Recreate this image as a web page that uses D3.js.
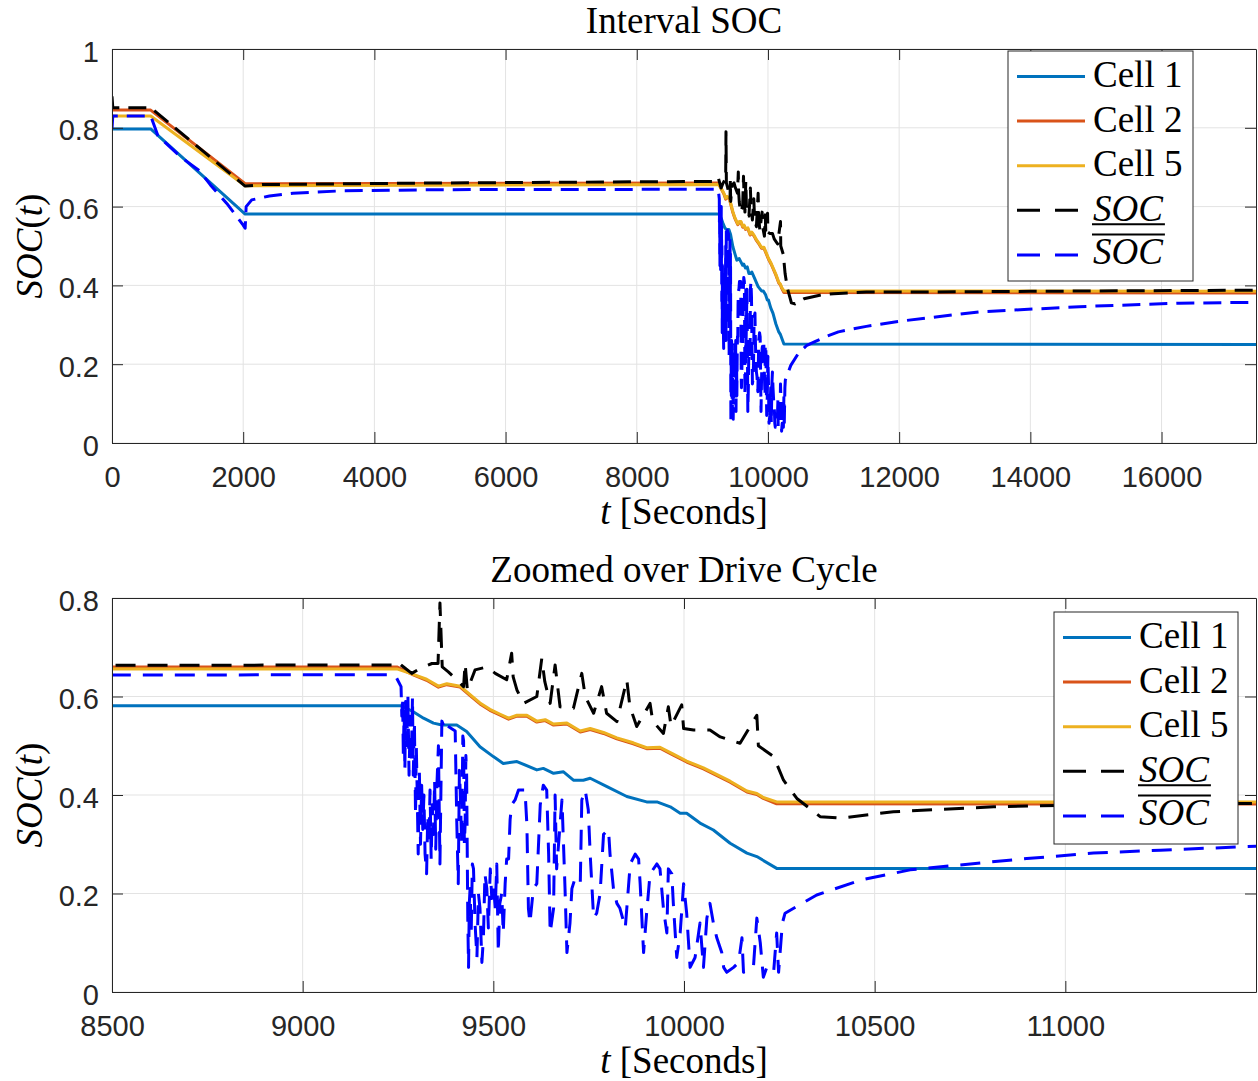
<!DOCTYPE html>
<html>
<head>
<meta charset="utf-8">
<script src="https://cdn.jsdelivr.net/npm/d3@7"></script>
<style>
  body { margin: 0; background: #fff; }
  svg { display: block; }
</style>
</head>
<body>
<div id="container"></div>
<script>
/* DATA  ([t seconds, SOC]) */
const cell1 = [[0,0.797],[590,0.797],[2030,0.581],[9260,0.581],[9290,0.569],[9317,0.556],[9343,0.546],[9365,0.542],[9404,0.542],[9430,0.529],[9465,0.498],[9500,0.478],[9526,0.464],[9562,0.468],[9614,0.451],[9631,0.454],[9658,0.444],[9684,0.447],[9710,0.430],[9736,0.430],[9754,0.434],[9798,0.417],[9850,0.397],[9902,0.386],[9929,0.386],[9964,0.376],[9990,0.363],[10007,0.363],[10042,0.343],[10077,0.329],[10121,0.302],[10165,0.282],[10191,0.275],[10243,0.251],[17440,0.250]];

const cell2 = [[0,0.845],[590,0.845],[2030,0.658],[9247,0.660],[9290,0.644],[9325,0.633],[9356,0.619],[9378,0.624],[9413,0.619],[9439,0.602],[9465,0.585],[9491,0.572],[9518,0.562],[9540,0.554],[9562,0.560],[9588,0.560],[9614,0.548],[9636,0.551],[9658,0.542],[9693,0.544],[9728,0.528],[9754,0.533],[9789,0.525],[9824,0.514],[9867,0.504],[9902,0.494],[9937,0.495],[9972,0.481],[10007,0.467],[10051,0.453],[10121,0.426],[10165,0.406],[10191,0.401],[10208,0.393],[10243,0.382],[17440,0.381]];

const cell5 = [[0,0.830],[590,0.830],[2030,0.653],[9247,0.656],[9290,0.645],[9325,0.635],[9356,0.621],[9378,0.626],[9413,0.621],[9439,0.604],[9465,0.587],[9491,0.574],[9518,0.564],[9540,0.556],[9562,0.562],[9588,0.562],[9614,0.550],[9636,0.553],[9658,0.544],[9693,0.546],[9728,0.530],[9754,0.535],[9789,0.527],[9824,0.516],[9867,0.506],[9902,0.496],[9937,0.497],[9972,0.483],[10007,0.469],[10051,0.455],[10121,0.428],[10165,0.408],[10191,0.403],[10208,0.395],[10243,0.386],[17440,0.385]];

// upper bound
const socUpper = [[0,0.880],[12,0.851],[590,0.851],[2030,0.652],[2300,0.656],[5000,0.660],[9200,0.664],[9238,0.664],[9247,0.671],[9258,0.664],[9286,0.647],[9308,0.657],[9339,0.667],[9355,0.667],[9360,0.790],[9366,0.660],[9382,0.650],[9404,0.634],[9422,0.620],[9426,0.667],[9432,0.613],[9452,0.654],[9483,0.660],[9505,0.647],[9535,0.634],[9548,0.688],[9552,0.640],[9562,0.613],[9579,0.586],[9614,0.600],[9627,0.677],[9635,0.630],[9649,0.586],[9662,0.664],[9675,0.579],[9710,0.576],[9732,0.647],[9741,0.600],[9763,0.566],[9784,0.620],[9797,0.566],[9824,0.549],[9850,0.634],[9858,0.580],[9876,0.539],[9911,0.586],[9918,0.550],[9946,0.525],[9959,0.579],[9966,0.540],[9994,0.583],[9999,0.535],[10025,0.532],[10068,0.532],[10095,0.518],[10147,0.505],[10191,0.562],[10195,0.500],[10235,0.478],[10261,0.430],[10296,0.393],[10357,0.356],[10410,0.353],[10549,0.366],[10812,0.376],[11000,0.379],[11500,0.383],[12210,0.383],[14000,0.385],[17440,0.388]];

// lower bound
const socLower = [[0,0.797],[12,0.830],[590,0.830],[700,0.780],[1040,0.727],[1340,0.690],[1500,0.655],[1750,0.608],[2000,0.553],[2030,0.545],[2045,0.600],[2130,0.617],[2400,0.627],[2760,0.634],[3500,0.640],[5000,0.643],[9242,0.644],
  [9258,0.620],[9260,0.560],[9262,0.600],[9264,0.480],[9266,0.570],[9268,0.450],[9270,0.590],[9273,0.500],[9276,0.600],[9279,0.440],[9282,0.560],[9285,0.470],[9288,0.600],[9290,0.440],[9293,0.550],[9296,0.360],[9298,0.500],[9300,0.420],[9303,0.280],[9306,0.450],[9309,0.300],[9312,0.420],[9315,0.330],[9318,0.400],[9321,0.280],[9325,0.240],[9328,0.360],[9331,0.300],[9334,0.410],[9337,0.270],[9340,0.380],[9343,0.320],[9346,0.430],[9349,0.290],[9352,0.420],[9356,0.500],[9360,0.260],[9365,0.550],[9375,0.530],[9380,0.540],
  [9400,0.530],[9404,0.350],[9408,0.220],[9411,0.450],[9413,0.410],[9417,0.300],[9420,0.520],[9422,0.510],[9424,0.300],[9426,0.340],[9428,0.480],[9430,0.440],[9433,0.150],[9435,0.050],[9437,0.180],[9439,0.210],[9442,0.120],[9445,0.260],[9448,0.250],[9452,0.140],[9457,0.070],[9461,0.200],[9465,0.170],[9470,0.060],[9474,0.110],[9478,0.240],[9483,0.210],[9487,0.130],[9492,0.250],[9496,0.190],[9500,0.220],[9505,0.170],[9509,0.260],[9513,0.080],[9517,0.180],[9522,0.200],[9526,0.120],[9531,0.220],[9535,0.270],[9540,0.270],
  [9544,0.350],[9548,0.380],[9557,0.390],[9566,0.410],[9583,0.410],[9588,0.340],[9592,0.170],[9596,0.140],[9605,0.210],[9614,0.220],[9623,0.380],[9631,0.420],[9640,0.410],[9645,0.280],[9649,0.120],[9658,0.170],[9662,0.400],[9666,0.250],[9680,0.390],[9688,0.210],[9693,0.080],[9701,0.140],[9706,0.210],[9714,0.230],[9728,0.220],[9732,0.390],[9741,0.410],[9749,0.370],[9754,0.280],[9763,0.150],[9771,0.160],[9780,0.200],[9789,0.320],[9802,0.330],[9806,0.280],[9815,0.210],[9824,0.180],[9832,0.170],[9846,0.130],[9850,0.170],[9859,0.260],[9872,0.280],[9881,0.270],[9885,0.220],[9894,0.080],[9902,0.160],[9911,0.240],[9929,0.260],[9937,0.250],[9946,0.170],[9955,0.120],[9959,0.250],[9968,0.240],[9972,0.180],[9981,0.070],[9990,0.120],[9999,0.220],[10007,0.160],[10016,0.050],[10029,0.070],[10042,0.140],[10051,0.050],[10060,0.150],[10068,0.180],[10077,0.140],[10086,0.110],[10099,0.080],[10104,0.050],[10112,0.040],[10130,0.050],[10143,0.060],[10152,0.110],[10156,0.040],[10182,0.050],[10191,0.150],[10200,0.100],[10208,0.030],[10217,0.050],[10235,0.040],[10243,0.120],[10248,0.040],
  [10258,0.140],[10265,0.160],[10348,0.197],[10462,0.227],[10593,0.248],[10724,0.258],[10899,0.271],[11074,0.282],[11249,0.288],[11500,0.296],[11957,0.308],[13227,0.333],[14750,0.346],[16274,0.355],[17440,0.357]];

const legendNames = ["Cell 1", "Cell 2", "Cell 5", "SOC", "SOC"];
const topXTicks = [0, 2000, 4000, 6000, 8000, 10000, 12000, 14000, 16000];
const topYTicks = [0, 0.2, 0.4, 0.6, 0.8, 1];
const botXTicks = [8500, 9000, 9500, 10000, 10500, 11000];
const botYTicks = [0, 0.2, 0.4, 0.6, 0.8];

/* SETUP */
const width = 1258, height = 1081;
const axisColor = "#262626";
const serif = "'Liberation Serif', 'DejaVu Serif', serif";
const sans = "'Liberation Sans', Arial, sans-serif";

const series = [
  { data: cell1, color: "#0072BD", dash: null },
  { data: cell2, color: "#D95319", dash: null },
  { data: cell5, color: "#EDB120", dash: null },
  { data: socUpper, color: "#000000", dash: true },
  { data: socLower, color: "#0000FF", dash: true }
];

const panels = [
  { id: "top", title: "Interval SOC", xDomain: [0, 17440], yDomain: [0, 1],
    xTicks: topXTicks, yTicks: topYTicks, left: 112, right: 1256, top: 49, bottom: 443,
    dash: "18,9", legend: { x: 1008, y: 51, w: 185, h: 230 } },
  { id: "bot", title: "Zoomed over Drive Cycle", xDomain: [8500, 11500], yDomain: [0, 0.8],
    xTicks: botXTicks, yTicks: botYTicks, left: 112, right: 1256, top: 598, bottom: 992,
    dash: "20,12", legend: { x: 1054, y: 612, w: 184, h: 232 } }
];

const svg = d3.select("#container")
  .append("svg")
  .attr("width", width)
  .attr("height", height)
  .style("background", "#fff");

const fmtY = d3.format("~g");

panels.forEach(p => {
  const x = d3.scaleLinear().domain(p.xDomain).range([p.left, p.right]);
  const y = d3.scaleLinear().domain(p.yDomain).range([p.bottom, p.top]);
  const g = svg.append("g");

  // grid
  g.selectAll("line.gx").data(p.xTicks).join("line")
    .attr("x1", d => x(d)).attr("x2", d => x(d))
    .attr("y1", p.top).attr("y2", p.bottom)
    .attr("stroke", "#e3e3e3").attr("stroke-width", 1);
  g.selectAll("line.gy").data(p.yTicks).join("line")
    .attr("x1", p.left).attr("x2", p.right)
    .attr("y1", d => y(d)).attr("y2", d => y(d))
    .attr("stroke", "#e3e3e3").attr("stroke-width", 1);

  // lines
  svg.append("clipPath").attr("id", "clip-" + p.id)
    .append("rect")
    .attr("x", p.left).attr("y", p.top)
    .attr("width", p.right - p.left).attr("height", p.bottom - p.top);

  const line = d3.line().x(d => x(d[0])).y(d => y(d[1]));
  g.append("g").attr("clip-path", `url(#clip-${p.id})`)
    .selectAll("path").data(series).join("path")
    .attr("d", s => line(s.data))
    .attr("fill", "none")
    .attr("stroke", s => s.color)
    .attr("stroke-width", 3)
    .attr("stroke-linejoin", "round")
    .attr("stroke-dasharray", s => s.dash ? p.dash : null);

  // axes (matlab box style, ticks inward)
  const tl = 11;
  const axB = g.append("g").attr("transform", `translate(0,${p.bottom})`)
    .call(d3.axisBottom(x).tickValues(p.xTicks).tickSizeInner(-tl).tickSizeOuter(0).tickPadding(22).tickFormat(d3.format("d")));
  const axT = g.append("g").attr("transform", `translate(0,${p.top})`)
    .call(d3.axisTop(x).tickValues(p.xTicks).tickSizeInner(-tl).tickSizeOuter(0).tickFormat(""));
  const axL = g.append("g").attr("transform", `translate(${p.left},0)`)
    .call(d3.axisLeft(y).tickValues(p.yTicks).tickSizeInner(-tl).tickSizeOuter(0).tickPadding(24).tickFormat(fmtY));
  const axR = g.append("g").attr("transform", `translate(${p.right},0)`)
    .call(d3.axisRight(y).tickValues(p.yTicks).tickSizeInner(-tl).tickSizeOuter(0).tickFormat(""));
  [axB, axT, axL, axR].forEach(a => {
    a.select(".domain").attr("stroke", axisColor).attr("stroke-width", 1);
    a.selectAll(".tick line").attr("stroke", axisColor);
    a.selectAll("text").attr("fill", axisColor).style("font-family", sans).style("font-size", "29px");
  });
  axB.selectAll("text").attr("dy", null).attr("y", 43.5);
  axL.selectAll("text").attr("dy", "0.42em").attr("x", -13);

  // title and labels
  g.append("text")
    .attr("x", (p.left + p.right) / 2).attr("y", p.top - 16)
    .attr("text-anchor", "middle")
    .style("font-family", serif).style("font-size", "37px")
    .text(p.title);

  const xl = g.append("text")
    .attr("x", (p.left + p.right) / 2).attr("y", p.bottom + 81)
    .attr("text-anchor", "middle")
    .style("font-family", serif).style("font-size", "37px");
  xl.append("tspan").style("font-style", "italic").text("t");
  xl.append("tspan").text(" [Seconds]");

  const yl = g.append("text")
    .attr("transform", `translate(42,${(p.top + p.bottom) / 2}) rotate(-90)`)
    .attr("text-anchor", "middle")
    .style("font-family", serif).style("font-size", "37px");
  yl.append("tspan").style("font-style", "italic").text("SOC");
  yl.append("tspan").text("(");
  yl.append("tspan").style("font-style", "italic").text("t");
  yl.append("tspan").text(")");

  // legend
  const L = p.legend;
  const lg = g.append("g").attr("transform", `translate(${L.x},${L.y})`);
  lg.append("rect").attr("x", 0).attr("y", 0).attr("width", L.w).attr("height", L.h)
    .attr("fill", "#fff").attr("stroke", axisColor).attr("stroke-width", 1);
  const rows = lg.selectAll("g.row").data(series).join("g")
    .attr("transform", (s, i) => `translate(0,${25.5 + i * 44.6})`);
  rows.append("line")
    .attr("x1", 9).attr("x2", 77).attr("y1", 0).attr("y2", 0)
    .attr("stroke", s => s.color).attr("stroke-width", 3)
    .attr("stroke-dasharray", s => s.dash ? "23,15" : null);
  const txt = rows.append("text")
    .attr("x", 85).attr("y", (s, i) => i === 4 ? 9 : 10.5)
    .style("font-family", serif).style("font-size", "37px")
    .style("font-style", (s, i) => i >= 3 ? "italic" : null)
    .text((s, i) => legendNames[i]);
  txt.each(function (s, i) {
    if (i < 3) return;
    const w = this.getComputedTextLength();
    const yy = i === 3 ? 14 : -20.5;
    d3.select(this.parentNode).append("line")
      .attr("x1", 84).attr("x2", 84 + w + 3).attr("y1", yy).attr("y2", yy)
      .attr("stroke", "#000").attr("stroke-width", 2);
  });
});
</script>
</body>
</html>
